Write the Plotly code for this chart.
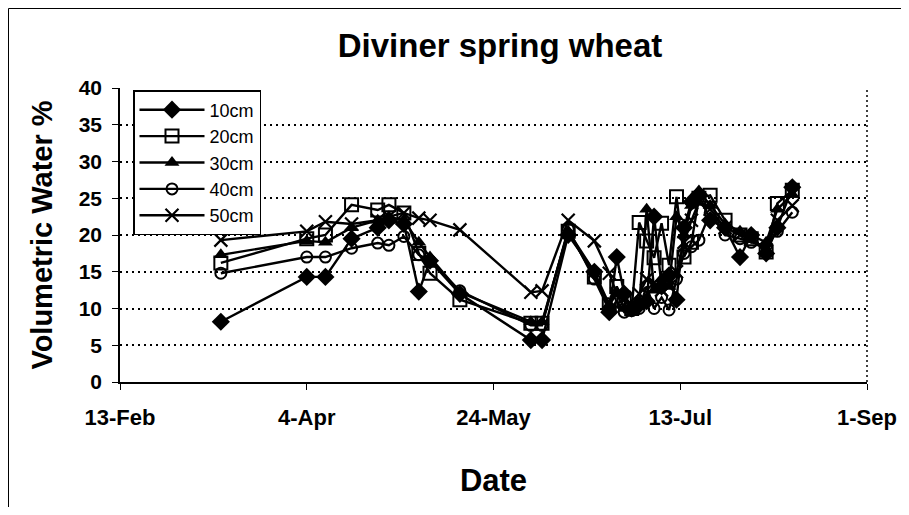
import plotly.graph_objects as go

dates = ["2001-03-12", "2001-04-04", "2001-04-09", "2001-04-16", "2001-04-23", "2001-04-26",
         "2001-04-30", "2001-05-04", "2001-05-07", "2001-05-15", "2001-06-03", "2001-06-06",
         "2001-06-13", "2001-06-20", "2001-06-24", "2001-06-26", "2001-06-28", "2001-06-30",
         "2001-07-02", "2001-07-04", "2001-07-06", "2001-07-08", "2001-07-10", "2001-07-12",
         "2001-07-14", "2001-07-16", "2001-07-18", "2001-07-21", "2001-07-25", "2001-07-29",
         "2001-08-01", "2001-08-05", "2001-08-08", "2001-08-12"]

cm10 = [8.2, 14.3, 14.3, 19.5, 21.0, 22.0, 21.5, 12.3, 16.5, 12.0, 5.7, 5.7, 20.0, 15.0, 9.5, 17.0, 12.0,
        10.0, 10.5, 11.0, 22.5, 13.0, 14.5, 11.2, 21.0, 24.5, 25.5, 22.0, 21.0, 17.0, 20.0, 17.5, 21.0, 26.5]
cm20 = [16.2, 19.5, 20.0, 24.1, 23.4, 24.1, 23.0, 17.5, 14.8, 11.2, 8.0, 8.0, 20.5, 14.3, 10.5, 13.0, 11.0,
        10.0, 21.7, 19.2, 16.9, 21.6, 15.9, 25.2, 17.0, 19.0, 25.0, 25.4, 22.0, 20.0, 19.5, 17.7, 24.3, 26.1]
cm30 = [17.3, 19.2, 19.0, 21.0, 22.0, 22.5, 22.0, 19.0, 17.0, 12.2, 8.2, 8.2, 20.5, 15.0, 10.5, 12.0, 10.0,
        9.8, 10.5, 23.5, 12.5, 14.0, 13.0, 22.5, 20.0, 24.0, 26.0, 24.0, 21.5, 20.5, 20.0, 19.0, 23.5, 25.5]
cm40 = [14.8, 17.0, 17.0, 18.2, 18.9, 18.6, 19.8, 17.3, 16.5, 12.4, 7.7, 7.7, 20.8, 14.0, 9.8, 11.0, 9.5,
        9.7, 10.0, 13.0, 10.0, 11.5, 9.8, 14.0, 17.5, 18.4, 19.3, 23.0, 20.0, 19.5, 19.0, 18.5, 20.5, 23.1]
cm50 = [19.3, 20.5, 21.8, 21.5, 22.0, 22.5, 23.0, 22.3, 22.0, 20.7, 12.2, 12.4, 22.0, 19.2, 14.8, 12.0, 11.5,
        10.5, 12.0, 14.0, 13.5, 12.5, 13.0, 15.0, 19.0, 22.0, 24.5, 23.5, 21.0, 20.0, 19.5, 18.0, 22.0, 24.0]

series_names = ["10cm", "20cm", "30cm", "40cm", "50cm"]
tick_dates = ["2001-02-13", "2001-04-04", "2001-05-24", "2001-07-13", "2001-09-01"]
tick_labels = ["13-Feb", "4-Apr", "24-May", "13-Jul", "1-Sep"]
y_ticks = [0, 5, 10, 15, 20, 25, 30, 35, 40]

FONT = "Liberation Sans, Arial, sans-serif"

styles = [
    dict(symbol="diamond", size=14, color="black"),
    dict(symbol="square-open", size=13, color="black", line=dict(width=2, color="black")),
    dict(symbol="triangle-up", size=13, color="black"),
    dict(symbol="circle-open", size=11, color="black", line=dict(width=2, color="black")),
    dict(symbol="x-thin-open", size=13, color="black", line=dict(width=2.2, color="black")),
]

fig = go.Figure()
for name, vals, st in zip(series_names, [cm10, cm20, cm30, cm40, cm50], styles):
    fig.add_trace(go.Scatter(x=dates, y=vals, mode="lines+markers", name=name,
                             line=dict(color="black", width=2.4), marker=st))

# page body has an 8px margin, so the figure is 16px smaller than the window
W, H = 893, 499
L, R, T, B = 112, 34, 80, 125
pw, ph = W - L - R, H - T - B

fig.update_layout(
    width=W, height=H,
    margin=dict(l=L, r=R, t=T, b=B),
    paper_bgcolor="white", plot_bgcolor="white",
    font=dict(family=FONT, color="black"),
    title=dict(text="Diviner spring wheat", x=492 / W, xanchor="center", y=1 - 37 / H, yanchor="middle",
               font=dict(size=33, family=FONT, weight="bold")),
    legend=dict(x=(125 - L) / pw, y=(T + ph - 82) / ph, xanchor="left", yanchor="top",
                bordercolor="black", borderwidth=1.5, bgcolor="white",
                font=dict(size=18, family=FONT), tracegroupgap=0, itemwidth=65),
    xaxis=dict(type="date", range=["2001-02-13", "2001-09-01"], tickvals=tick_dates, ticktext=tick_labels,
               showgrid=False, showline=True, linecolor="black", linewidth=1.5,
               ticks="outside", ticklen=6, tickcolor="black", ticklabelstandoff=9,
               tickfont=dict(size=22, family=FONT, weight="bold"),
               title=dict(text="Date", font=dict(size=31, family=FONT, weight="bold"), standoff=40),
               zeroline=False, automargin=False),
    yaxis=dict(range=[0, 40], tickvals=y_ticks, showgrid=True, gridcolor="black", griddash="2px,4px",
               gridwidth=1.5, showline=True, linecolor="black", linewidth=1.5,
               ticks="outside", ticklen=6, tickcolor="black", ticklabelstandoff=6,
               tickfont=dict(size=21, family=FONT, weight="bold"),
               title=dict(text="Volumetric Water %", font=dict(size=29, family=FONT, weight="bold"), standoff=18),
               zeroline=False),
)

# dotted right border of plot area
fig.add_shape(type="line", xref="paper", yref="paper", x0=1, x1=1, y0=0, y1=1,
              line=dict(color="black", width=1.5, dash="2px,3px"))
# outer chart border
fig.add_shape(type="rect", xref="paper", yref="paper",
              x0=(0.5 - L) / pw, x1=(W + 5 - L) / pw, y0=(T + ph - H - 5) / ph, y1=(T + ph - 0.5) / ph,
              line=dict(color="black", width=1))

fig.write_html("out.html")
